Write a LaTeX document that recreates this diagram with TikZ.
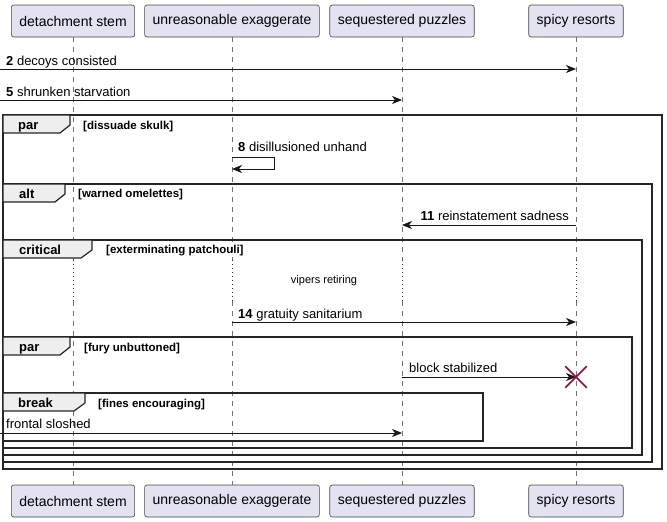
\documentclass[tikz,border=0pt]{standalone}
\usepackage{fontspec}
\setmainfont{Liberation Sans}
\usepackage{xcolor}
\usepackage{tikz}
\usetikzlibrary{positioning,arrows.meta,shapes.misc}
\definecolor{partfill}{RGB}{226,226,240}
\definecolor{partline}{RGB}{24,24,24}
\definecolor{tabfill}{RGB}{238,238,238}
\definecolor{killred}{RGB}{168,0,54}
\tikzset{
  part/.style  = {draw=partline!80, fill=partfill, rounded corners=2.5pt, font=\fontsize{14}{16}\selectfont, minimum height=32pt, inner xsep=8pt, line width=0.6pt},
  life/.style  = {draw=black!55, line width=0.6pt, dash pattern=on 5pt off 5pt},
  pause/.style = {draw=killred, line width=0.8pt, dash pattern=on 1pt off 3pt},
  msg/.style   = {-{Stealth[length=10pt,width=8pt,inset=3pt]}, line width=0.8pt, draw=partline},
  lbl/.style   = {font=\fontsize{13}{15}\selectfont, inner sep=0pt, anchor=base west},
  frame/.style = {draw=black!85, line width=1.5pt},
  tab/.style   = {draw=black!85, line width=1.2pt, fill=tabfill},
  kind/.style  = {font=\fontsize{13}{15}\selectfont\bfseries, inner sep=0pt, anchor=base west},
  cond/.style  = {font=\fontsize{11.5}{13}\selectfont\bfseries, inner sep=0pt, anchor=base west},
  kill/.style  = {draw=killred, cross out, line width=1.5pt, minimum size=20pt, inner sep=0pt},
}

\begin{document}
\begin{tikzpicture}[x=1pt,y=-1pt]
  \useasboundingbox (0,0) rectangle (667,522);
  % participants, top and bottom
  \node[part] (stemT)  at (73,21)  {detachment stem};
  \node[part] (exagT)  at (232,21) {unreasonable exaggerate};
  \node[part] (puzT)   at (402,21) {sequestered puzzles};
  \node[part] (spicyT) at (576,21) {spicy resorts};
  \node[part] (stemB)  at (73,501)  {detachment stem};
  \node[part] (exagB)  at (232,501) {unreasonable exaggerate};
  \node[part] (puzB)   at (402,501) {sequestered puzzles};
  \node[part] (spicyB) at (576,501) {spicy resorts};
  % lifelines, with the delay in the critical block
  \coordinate (waitA) at (0,260);
  \coordinate (waitB) at (0,301);
  \draw[life] (stemT) -- (stemT |- waitA);   \draw[pause] (stemT |- waitA) -- (stemT |- waitB);   \draw[life] (stemT |- waitB) -- (stemB);
  \draw[life] (exagT) -- (exagT |- waitA);   \draw[pause] (exagT |- waitA) -- (exagT |- waitB);   \draw[life] (exagT |- waitB) -- (exagB);
  \draw[life] (puzT) -- (puzT |- waitA);     \draw[pause] (puzT |- waitA) -- (puzT |- waitB);     \draw[life] (puzT |- waitB) -- (puzB);
  \draw[life] (spicyT) -- (spicyT |- waitA); \draw[pause] (spicyT |- waitA) -- (spicyT |- waitB); \draw[life] (spicyT |- waitB) -- (spicyB);
  % frames
  \draw[frame] (3,115) rectangle (662,469);
  \draw[tab] (3,115) -- (70,115) -- (70,125) -- (60,133) -- (3,133) -- cycle;
  \node[kind] (parA) at (18,129) {par};
  \node[cond] (parAc) at (83,129) {[dissuade skulk]};
  \draw[frame] (3,184) rectangle (652,462);
  \draw[tab] (3,184) -- (65,184) -- (65,194) -- (55,202) -- (3,202) -- cycle;
  \node[kind] (alt) at (19,198) {alt};
  \node[cond] (altc) at (78,197) {[warned omelettes]};
  \draw[frame] (3,240) rectangle (642,455);
  \draw[tab] (3,240) -- (92,240) -- (92,250) -- (81,258) -- (3,258) -- cycle;
  \node[kind] (crit) at (19,254) {critical};
  \node[cond] (critc) at (106,253) {[exterminating patchouli]};
  \draw[frame] (3,337) rectangle (632,448);
  \draw[tab] (3,337) -- (70,337) -- (70,347) -- (60,355) -- (3,355) -- cycle;
  \node[kind] (parB) at (19,351) {par};
  \node[cond] (parBc) at (84,351) {[fury unbuttoned]};
  \draw[frame] (3,393) rectangle (483,441);
  \draw[tab] (3,393) -- (85,393) -- (85,403) -- (74,411) -- (3,411) -- cycle;
  \node[kind] (brk) at (18,407) {break};
  \node[cond] (brkc) at (98,407) {[fines encouraging]};
  % messages
  \coordinate (in2) at (0,69);
  \draw[msg] (in2) -- (spicyT |- in2);
  \node[lbl] (m2) at (6,65) {\textbf{2} decoys consisted};
  \coordinate (in5) at (0,100);
  \draw[msg] (in5) -- (puzT |- in5);
  \node[lbl] (m5) at (6,96) {\textbf{5} shrunken starvation};
  \coordinate (self8) at (274,157);
  \draw[msg] (exagT |- self8) -- (self8) -- ++(0,12) -- (exagT |- 0,169);
  \node[lbl] (m8) at (238,151) {\textbf{8} disillusioned unhand};
  \coordinate (back11) at (0,225);
  \draw[msg] (spicyT |- back11) -- (puzT |- back11);
  \node[lbl, anchor=base east] (m11) at (569,220) {\textbf{11} reinstatement sadness};
  \node[font=\fontsize{11}{13}\selectfont, inner sep=0pt, anchor=base] (delay) at (324,283) {vipers retiring};
  \coordinate (go14) at (0,322);
  \draw[msg] (exagT |- go14) -- (spicyT |- go14);
  \node[lbl] (m14) at (238,318) {\textbf{14} gratuity sanitarium};
  \coordinate (blk) at (0,377);
  \draw[msg] (puzT |- blk) -- (spicyT |- blk);
  \node[lbl] (mblk) at (409,372) {block stabilized};
  \node[kill] (dead) at (spicyT |- blk) {};
  \coordinate (inF) at (0,433);
  \draw[msg] (inF) -- (puzT |- inF);
  \node[lbl] (mF) at (6,428) {frontal sloshed};
\end{tikzpicture}
\end{document}
